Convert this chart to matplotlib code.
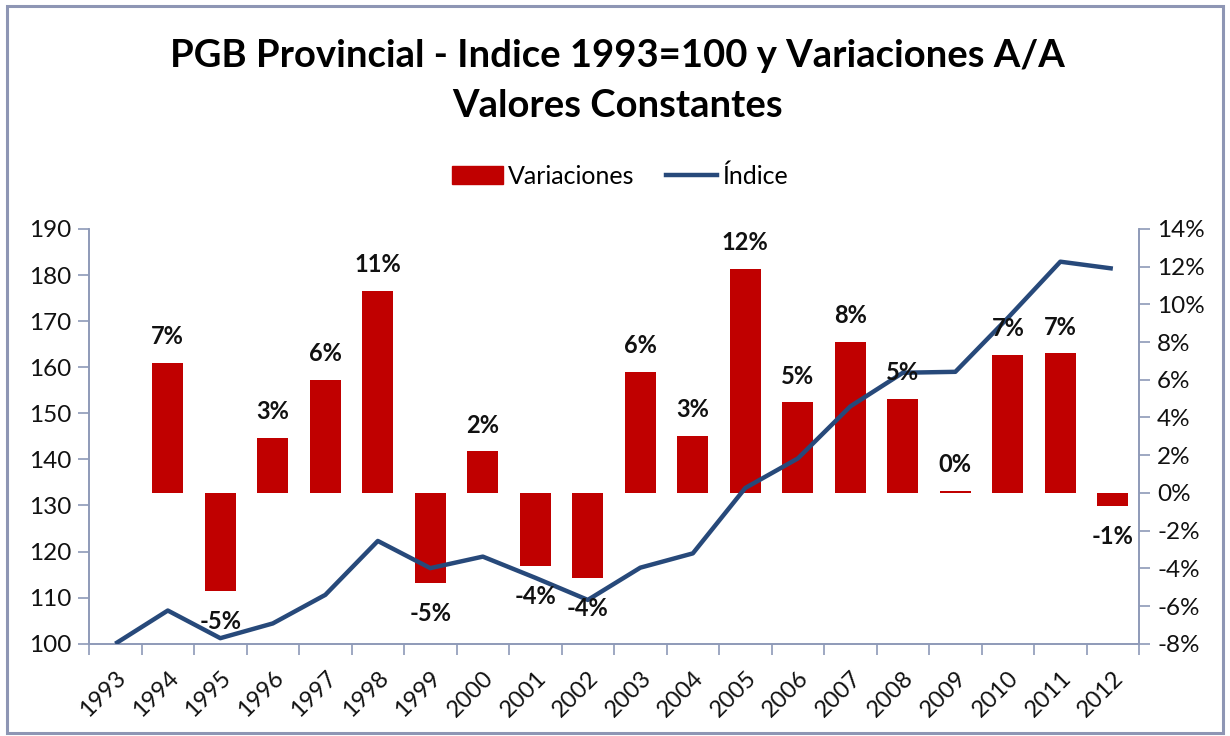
import matplotlib
matplotlib.use("Agg")
import matplotlib.pyplot as plt
from matplotlib.patches import Rectangle
from matplotlib.lines import Line2D
from matplotlib.patches import Patch

plt.rcParams['font.family'] = ['Lato', 'DejaVu Sans']

years = [str(y) for y in range(1993, 2013)]
# variacion anual (%), 1993 sin dato
variaciones = [None, 6.9, -5.2, 2.9, 6.0, 10.7, -4.8, 2.2, -3.9, -4.5,
               6.4, 3.0, 11.9, 4.8, 8.0, 5.0, 0.1, 7.3, 7.4, -0.7]
indice = [100.0, 107.2, 101.2, 104.4, 110.6, 122.3, 116.4, 118.9, 114.3, 109.5,
          116.5, 119.6, 133.8, 140.2, 151.5, 158.8, 159.0, 170.7, 182.9, 181.4]

bar_color = '#C00000'
line_color = '#27497A'
axis_color = '#8E9AB8'
text_color = '#111111'

fig = plt.figure(figsize=(12.3, 7.36), dpi=100)
fig.patches.append(Rectangle((0.006, 0.004), 0.988, 0.988, transform=fig.transFigure,
                             fill=False, edgecolor='#8E96B4', linewidth=2.2))

ax = fig.add_axes([0.0724, 0.1254, 0.8537, 0.5635])
ax_l = ax.twinx()

xs = list(range(len(years)))
bx = [x for x, v in zip(xs, variaciones) if v is not None]
bv = [v for v in variaciones if v is not None]
ax.bar(bx, bv, width=0.59, color=bar_color, zorder=2)
ax.set_ylim(-8, 14)
ax.set_xlim(-0.5, len(years) - 0.5)

ax_l.plot(xs, indice, color=line_color, linewidth=3.2, solid_capstyle='butt', zorder=3)
ax_l.set_ylim(100, 190)

# etiquetas de las barras
for x, v in zip(bx, bv):
    off = 19 if v >= 0 else -22
    ax_l.annotate(f"{round(v)}%", xy=(x, v), xycoords=ax.transData,
                  xytext=(0, off), textcoords='offset points',
                  ha='center', va='center', fontsize=17, fontweight='bold',
                  color=text_color, zorder=5)

# indice a la izquierda, porcentaje a la derecha
ax.yaxis.tick_right()
ax_l.yaxis.tick_left()
ax.set_yticks(range(-8, 15, 2))
ax.set_yticklabels([f"{t}%" for t in range(-8, 15, 2)])
ax_l.set_yticks(range(100, 191, 10))

ax.set_xticks([x - 0.5 for x in range(len(years) + 1)])
ax.set_xticklabels([])
ax.set_xticks(xs, minor=True)
ax.set_xticklabels(years, minor=True, rotation=45, ha='right',
                   rotation_mode='anchor', fontsize=17, color=text_color)
ax.tick_params(axis='x', which='major', length=8, color=axis_color, width=1.2)
ax.tick_params(axis='x', which='minor', length=0, pad=17)
ax.tick_params(axis='y', length=8, color=axis_color, width=1.2, labelsize=17.5,
               labelcolor=text_color, pad=5)
ax_l.tick_params(axis='y', length=8, color=axis_color, width=1.2, labelsize=17.5,
                 labelcolor=text_color, pad=5)

for a in (ax, ax_l):
    a.spines['top'].set_visible(False)
    for s in ('left', 'right', 'bottom'):
        a.spines[s].set_color(axis_color)
        a.spines[s].set_linewidth(1.2)

fig.text(0.502, 0.924, "PGB Provincial - Indice 1993=100 y Variaciones A/A",
         ha='center', va='center', fontsize=27.5, fontweight='bold', color='black')
fig.text(0.502, 0.856, "Valores Constantes",
         ha='center', va='center', fontsize=27.5, fontweight='bold', color='black')

handles = [Patch(color=bar_color), Line2D([0], [0], color=line_color, linewidth=3.2)]
fig.legend(handles, ['Variaciones', 'Índice'], loc='center', bbox_to_anchor=(0.504, 0.761),
           ncol=2, frameon=False, fontsize=18, handlelength=2.05, handleheight=0.75,
           handletextpad=0.2, columnspacing=1.25)

fig.savefig('out.png', dpi=100)
